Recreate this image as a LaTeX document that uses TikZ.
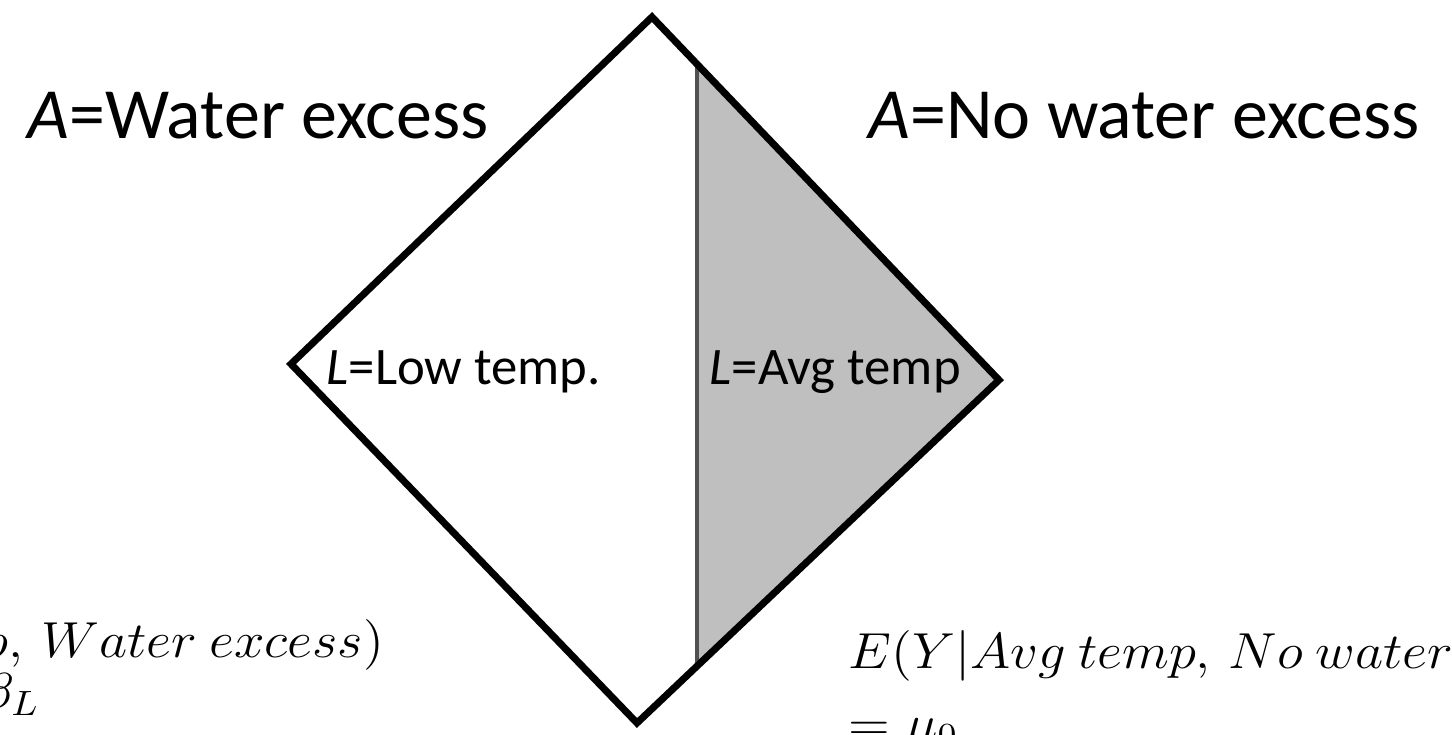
\documentclass[tikz,border=0pt]{standalone}
\usepackage[no-math]{fontspec}
\setmainfont{Carlito}
\usepackage{graphicx}
\definecolor{fillgray}{HTML}{BFBFBF}
\definecolor{divgray}{HTML}{505050}
\tikzset{
  outline/.style={draw=black, line width=2pt, line join=miter},
  divider/.style={draw=divgray, line width=1.4pt},
  toplabel/.style={font=\fontsize{20.5}{24}\selectfont, inner sep=0pt, anchor=base west},
  innerlabel/.style={font=\fontsize{15}{18}\selectfont, inner sep=0pt, anchor=base west},
  formula/.style={font=\fontsize{14.3}{17}\selectfont, inner sep=0pt},
}
\newcommand{\wideeq}[1]{\scalebox{1.08}[1]{$#1$}}
\begin{document}
\begin{tikzpicture}[x=0.1mm,y=-0.1mm]
\useasboundingbox (0,0) rectangle (1452,735);
\clip (0,0) rectangle (1452,735);
\fill[white] (0,0) rectangle (1452,735);
\coordinate (T) at (652,17);
\coordinate (R) at (999,380);
\coordinate (B) at (637,723);
\coordinate (L) at (291,364);
\coordinate (dt) at (697,64);
\coordinate (db) at (697,667);
\fill[fillgray] (dt) -- (R) -- (db) -- cycle;
\draw[divider] (dt) -- (db);
\draw[outline] (T) -- (R) -- (B) -- (L) -- cycle;
\node[toplabel] (aw) at (27,138) {\textit{A}=Water excess};
\node[toplabel] (an) at (868,138) {\textit{A}=No water excess};
\node[innerlabel] (ll) at (326,384) {\textit{L}=Low temp.};
\node[innerlabel] (la) at (709,384) {\textit{L}=Avg temp};
\node[formula, anchor=base east] (f1) at (385,657) {\wideeq{E(Y|Low\ temp,\,Water\ excess)}};
\node[formula, anchor=base east] (f2) at (40,708) {\wideeq{=\mu_0+\beta_L}};
\node[formula, anchor=base west] (f3) at (848,668) {\wideeq{E(Y|Avg\ temp,\,No\ water\ excess)}};
\node[formula, anchor=base west] (f4) at (848,740) {\wideeq{=\mu_0}};
\end{tikzpicture}
\end{document}
